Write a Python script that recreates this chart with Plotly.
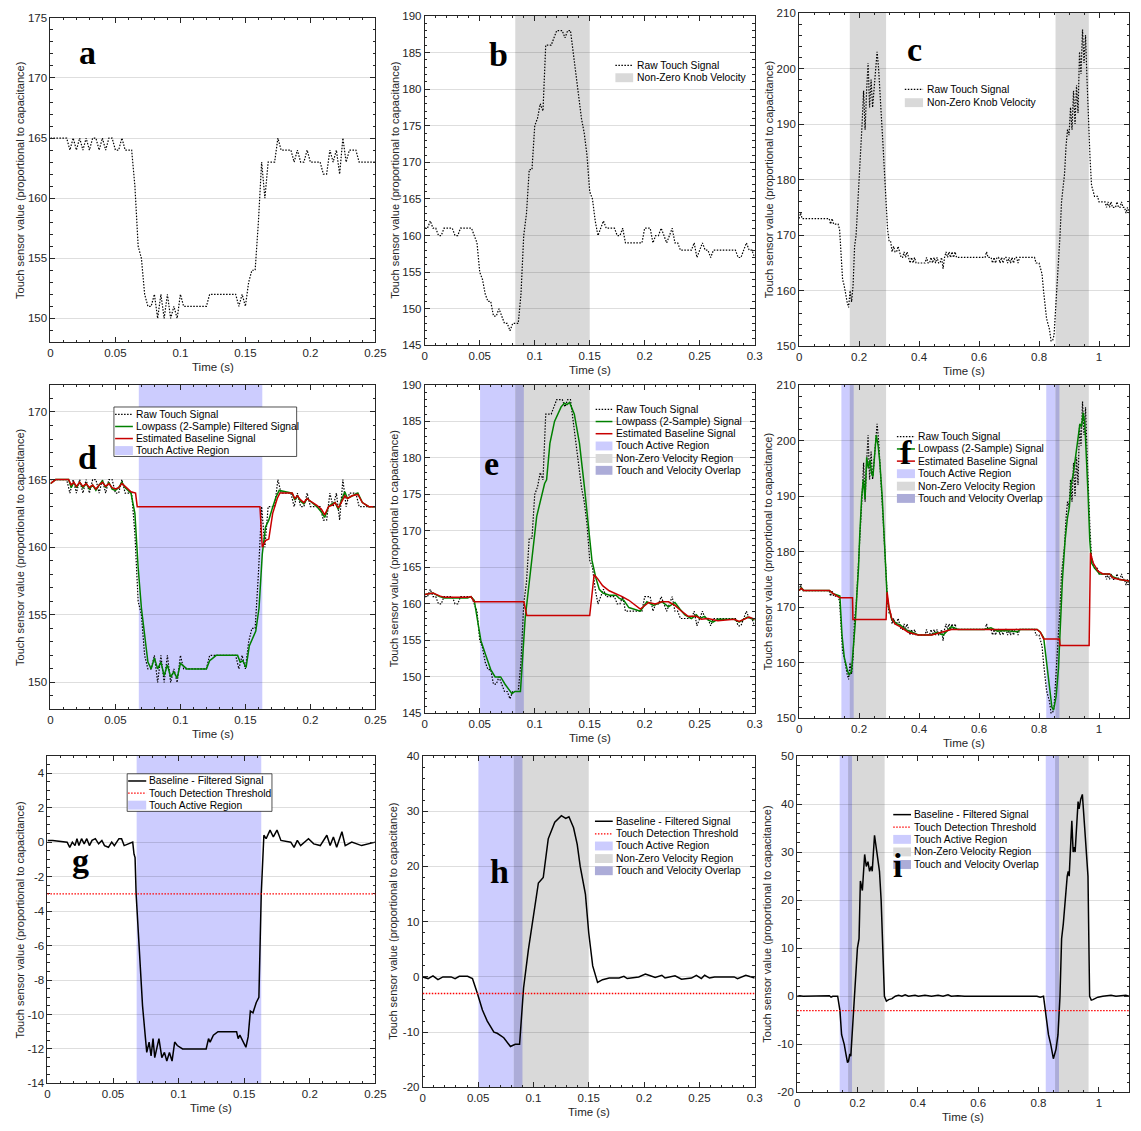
import plotly.graph_objects as go

W, H = 1141, 1131

# ---------------- Dataset 1 (panels a, d, g) ----------------
raw1_dt = 0.0025
raw1_v = [165,165,165,165,165,165,164,165,164,165,
          164,165,164,165,165,164,165,164,165,165,
          164,164,165,164,164,164,161,156,155,152,
          151,151,152,150,152,150,152,150,151,150,
          152,151,151,151,151,151,151,151,151,152,
          152,152,152,152,152,152,152,152,151,152,
          151,153,154,154,158,163,160,163,163,163,
          165,164,164,164,164,163,164,163,163,164,
          163,163,163,163,162,162,164,163,164,162,
          165,163,164,164,164,163,163,163,163,163,163]
filt1_pts = [(0.000,164.7),(0.004,165.0),(0.014,165.0),(0.016,164.4),(0.018,164.8),(0.020,164.4),(0.0225,164.8),
             (0.025,164.4),(0.0275,164.7),(0.030,164.3),(0.0325,164.6),(0.035,164.2),(0.0375,164.6),(0.040,164.9),
             (0.0425,164.4),(0.045,164.8),(0.0475,164.3),(0.050,164.2),(0.0525,164.4),(0.055,164.8),(0.0575,164.4),
             (0.062,164.0),(0.065,162.5),(0.0675,158.5),(0.070,155.5),(0.0725,153.5),(0.075,151.5),(0.0775,151.0),
             (0.080,151.8),(0.0825,151.0),(0.085,151.5),(0.0875,150.5),(0.090,151.3),(0.0925,150.4),(0.095,150.8),
             (0.0975,150.3),(0.100,151.4),(0.1025,151.2),(0.105,151.0),(0.120,151.0),(0.1225,151.6),(0.125,151.8),
             (0.1275,152.0),(0.144,152.0),(0.146,151.5),(0.148,151.6),(0.1505,151.1),(0.153,152.7),(0.1555,153.3),
             (0.158,153.8),(0.1605,155.5),(0.163,159.5),(0.1655,161.5),(0.168,162.0),(0.1705,162.8),(0.1735,163.7),
             (0.176,164.2),(0.186,164.0),(0.188,163.5),(0.190,163.8),(0.1925,163.4),(0.195,163.2),(0.1975,163.6),
             (0.200,163.4),(0.205,163.0),(0.2085,162.6),(0.211,162.2),(0.214,163.0),(0.2165,163.2),(0.219,163.3),
             (0.2215,162.8),(0.224,163.5),(0.2265,164.1),(0.2285,163.6),(0.232,163.8),(0.2365,164.0),(0.240,163.3),
             (0.245,163.0),(0.250,163.0)]
base1_pts = [(0.000,164.7),(0.004,165.0),(0.014,165.0),(0.016,164.6),(0.018,164.8),(0.020,164.5),(0.0225,164.8),
             (0.025,164.5),(0.0275,164.7),(0.030,164.4),(0.0325,164.6),(0.035,164.3),(0.0375,164.6),(0.040,164.8),
             (0.0425,164.5),(0.045,164.7),(0.0475,164.4),(0.050,164.3),(0.0525,164.4),(0.055,164.7),(0.0575,164.5),
             (0.062,164.1),(0.0655,164.0),(0.0668,163.0),(0.1612,163.0),(0.1630,160.0),(0.1655,160.5),(0.168,160.6),
             (0.171,162.5),(0.1745,163.6),(0.1765,164.0),(0.186,164.0),(0.188,163.6),(0.190,163.8),(0.1925,163.5),
             (0.195,163.3),(0.1975,163.6),(0.200,163.4),(0.205,163.1),(0.2085,162.8),(0.211,162.4),(0.214,163.0),
             (0.2165,163.1),(0.219,163.3),(0.2215,162.9),(0.224,163.3),(0.2265,163.8),(0.2285,163.6),(0.232,163.8),
             (0.2365,163.9),(0.240,163.3),(0.245,163.0),(0.250,163.0)]
diff1_pts = [(0.000,0.1),(0.004,0.1),(0.015,0.0),(0.017,-0.3),(0.019,0.0),(0.021,-0.2),(0.0225,0.2),(0.024,-0.2),
             (0.026,0.2),(0.028,-0.1),(0.030,0.2),(0.032,-0.2),(0.034,0.1),(0.0365,0.2),(0.039,-0.1),(0.0415,0.1),
             (0.0435,-0.2),(0.0465,-0.3),(0.049,0.0),(0.051,-0.2),(0.0545,0.2),(0.0565,0.2),(0.0585,-0.2),
             (0.0625,-0.1),(0.065,0.0),(0.066,-0.7),(0.0668,-0.9),(0.0676,-3.0),(0.070,-6.5),(0.0725,-9.5),
             (0.0745,-11.2),(0.0757,-12.2),(0.0775,-11.6),(0.079,-12.4),(0.0805,-11.4),(0.0818,-12.5),(0.085,-11.4),
             (0.0872,-12.5),(0.0892,-12.2),(0.091,-12.7),(0.093,-12.2),(0.095,-12.7),(0.097,-11.6),(0.099,-11.8),
             (0.103,-12.0),(0.121,-12.0),(0.1228,-11.4),(0.124,-11.6),(0.1265,-11.2),(0.130,-11.0),(0.1442,-11.0),
             (0.1454,-11.4),(0.1467,-11.2),(0.150,-11.7),(0.1513,-11.9),(0.153,-11.3),(0.1547,-9.8),(0.1567,-9.9),
             (0.1592,-9.3),(0.1612,-9.0),(0.163,-3.0),(0.165,0.4),(0.1667,0.2),(0.1697,0.7),(0.1722,0.3),
             (0.175,0.7),(0.178,0.1),(0.1855,0.0),(0.188,-0.3),(0.1905,0.1),(0.193,-0.2),(0.199,0.2),(0.203,-0.1),
             (0.208,-0.2),(0.213,0.4),(0.2155,-0.2),(0.218,0.3),(0.2205,-0.3),(0.2245,0.6),(0.227,-0.2),
             (0.232,0.0),(0.2395,-0.2),(0.250,0.0)]
touch1 = [(0.068, 0.163)]

# ---------------- Dataset 2 (panels b, e, h) ----------------
raw2_dt = 0.0025
raw2_v = [161,161,162,161,161,160,160,161,161,161,
          161,160,160,161,161,161,161,161,160,159,
          155,154,152,151,151,149,149,150,149,148,
          148,147,148,148,148,152,160,163,169,169,
          175,176,178,177,186,186,186,187,188,188,
          188,187,188,188,185,182,179,176,174,171,
          166,165,162,160,161,162,161,161,161,161,
          160,160,161,159,159,159,159,159,159,159,
          161,161,161,159,160,160,161,160,159,160,
          161,159,159,158,158,158,158,158,159,157,
          158,159,158,158,157,158,158,158,158,158,
          158,158,158,158,157,157,158,159,158,158,157]
filt2_pts = [(0.000,161.3),(0.0075,161.5),(0.0135,161.0),(0.018,160.8),(0.039,160.8),(0.042,161.0),(0.045,160.5),
             (0.048,158.0),(0.051,155.0),(0.0554,153.0),(0.060,151.0),(0.064,150.0),(0.069,150.0),(0.073,149.0),
             (0.0793,147.7),(0.082,148.0),(0.087,148.0),(0.0913,158.0),(0.0973,166.0),(0.1018,172.0),(0.109,176.5),
             (0.1108,177.0),(0.1138,182.0),(0.118,185.0),(0.124,187.0),(0.127,187.5),(0.1293,187.3),(0.1317,187.6),
             (0.136,186.0),(0.1407,182.0),(0.1452,176.0),(0.149,170.0),(0.152,166.0),(0.1557,163.5),(0.1587,162.0),
             (0.162,161.5),(0.168,161.2),(0.174,161.2),(0.1766,160.8),(0.181,160.5),(0.1856,159.5),(0.196,159.0),
             (0.202,160.3),(0.208,159.8),(0.2156,160.3),(0.2216,159.6),(0.2275,160.2),(0.232,159.3),(0.2365,158.5),
             (0.2425,158.0),(0.247,158.5),(0.250,158.0),(0.2545,158.3),(0.2575,157.8),(0.262,157.5),(0.2665,157.9),
             (0.2814,157.9),(0.2859,157.5),(0.2934,158.2),(0.300,157.8)]
base2_pts = [(0.000,161.3),(0.0075,161.5),(0.0135,161.1),(0.018,160.9),(0.039,160.9),(0.042,161.0),(0.045,160.3),
             (0.0901,160.3),(0.0928,158.4),(0.150,158.4),(0.154,164.0),(0.157,163.5),(0.1617,162.5),(0.1677,161.8),
             (0.1796,161.0),(0.1856,160.5),(0.196,159.3),(0.2036,160.2),(0.2096,160.0),(0.2156,160.3),(0.2216,160.3),
             (0.2275,159.8),(0.2335,159.0),(0.2395,158.3),(0.247,158.3),(0.2515,157.9),(0.2575,158.0),(0.2665,157.7),
             (0.2814,157.9),(0.2859,157.6),(0.2949,158.2),(0.300,157.9)]
diff2_pts = [(0.000,0.0),(0.0048,-0.3),(0.0092,0.2),(0.0137,-0.5),(0.0182,0.0),(0.0256,0.0),(0.0292,-0.3),(0.033,0.1),
             (0.0405,0.1),(0.0449,-0.3),(0.0494,-3.0),(0.0539,-6.0),(0.0583,-8.0),(0.0643,-10.0),(0.0673,-10.2),
             (0.0732,-11.0),(0.0792,-12.6),(0.0836,-12.2),(0.0875,-12.2),(0.0911,-2.0),(0.0955,5.0),(0.0994,10.0),
             (0.1045,17.0),(0.1089,18.0),(0.1134,25.0),(0.1193,28.0),(0.1253,29.2),(0.1292,28.7),(0.1321,29.0),
             (0.1363,27.0),(0.1396,24.0),(0.1423,20.0),(0.147,15.0),(0.150,8.0),(0.1536,2.0),(0.158,-1.0),
             (0.1625,-0.5),(0.1685,-0.2),(0.1774,-0.2),(0.1818,0.1),(0.1848,-0.3),(0.1952,0.0),(0.2012,0.5),
             (0.2057,0.2),(0.2101,-0.1),(0.2161,0.3),(0.219,-0.2),(0.228,0.2),(0.2339,-0.4),(0.2429,-0.2),
             (0.2473,0.3),(0.2518,-0.3),(0.2548,0.3),(0.2592,-0.2),(0.2637,0.0),(0.2815,0.0),(0.2845,-0.3),
             (0.292,0.3),(0.300,-0.2)]
velocity2 = [(0.0823, 0.150)]
touch2 = [(0.0503, 0.0901)]
overlap2 = [(0.0823, 0.0901)]

# ---------------- Dataset 3 (panels c, f, i) ----------------
raw3_dt = 0.005
raw3_v = [173,174,173,173,173,173,173,173,173,173,
          173,173,173,173,173,173,173,173,173,173,
          173,172,173,172,172,172,172,171,166,162,
          161,159,158,157,160,158,161,168,170,175,
          180,183,190,196,189,196,201,193,198,193,
          197,200,203,200,196,192,186,181,176,171,
          169,169,167,168,167,167,168,167,166,166,
          167,166,167,166,165,166,165,166,165,165,
          165,165,165,165,165,166,165,165,166,165,
          166,165,166,165,165,166,164,166,167,166,
          167,166,167,166,167,166,166,166,166,166,
          166,166,166,166,166,166,166,166,166,166,
          166,166,166,166,166,167,166,166,166,165,
          166,165,166,166,165,166,165,166,166,165,
          166,165,166,165,166,166,165,166,166,166,
          166,166,166,166,166,166,166,166,165,165,
          165,164,163,160,157,155,154,153,151,151,
          152,156,160,165,170,176,178,181,186,189,
          188,193,189,196,190,197,192,203,199,207,
          201,206,198,190,184,179,178,177,177,177,
          176,176,176,176,176,175,176,175,176,175,
          175,175,176,175,175,176,175,175,174,175,174]
filt3_pts = [(0.000,173.0),(0.0077,173.5),(0.0154,173.0),(0.101,173.0),(0.112,172.5),(0.136,172.0),(0.143,165.0),
             (0.1505,161.0),(0.1615,158.5),(0.167,157.8),(0.1747,158.5),(0.180,162.0),(0.187,167.0),(0.1923,172.0),
             (0.198,177.0),(0.2022,183.0),(0.2088,190.0),(0.2143,193.0),(0.2198,189.5),(0.2253,197.0),(0.2308,195.0),
             (0.2363,196.5),(0.2418,194.0),(0.2462,193.5),(0.2516,198.0),(0.2571,201.0),(0.2637,199.0),(0.2692,196.0),
             (0.2769,190.0),(0.2824,184.0),(0.2879,178.0),(0.2934,172.0),(0.2989,170.0),(0.3077,168.0),(0.3154,167.5),
             (0.3264,167.0),(0.3374,166.8),(0.3538,166.0),(0.3758,165.5),(0.3978,165.0),(0.4418,165.0),(0.4582,165.5),
             (0.4802,165.0),(0.4967,166.0),(0.5077,166.5),(0.5297,166.0),(0.6176,166.0),(0.6396,166.3),(0.6615,165.7),
             (0.6835,165.8),(0.7275,165.6),(0.7385,166.0),(0.7934,166.0),(0.8044,165.5),(0.8154,164.5),(0.8209,162.0),
             (0.8297,158.0),(0.8352,155.0),(0.8429,152.0),(0.8484,151.5),(0.8571,154.0),(0.8648,159.0),(0.8703,166.0),
             (0.878,175.0),(0.8868,182.0),(0.8945,186.0),(0.9011,188.0),(0.9066,192.0),(0.9143,194.0),(0.9231,198.0),
             (0.9308,201.0),(0.9363,203.0),(0.9418,202.5),(0.9473,205.0),(0.9527,203.0),(0.9582,197.0),(0.9637,190.0),
             (0.9692,182.0),(0.9747,178.0),(0.9857,177.0),(1.0022,176.0),(1.0352,176.0),(1.0462,175.5),(1.0681,175.0),
             (1.100,174.7)]
base3_pts = [(0.000,173.0),(0.0077,173.4),(0.0154,173.0),(0.101,173.0),(0.112,172.5),(0.136,171.7),(0.178,171.7),
             (0.1795,167.8),(0.290,167.8),(0.2934,172.7),(0.2999,170.0),(0.3088,168.0),(0.3198,167.0),(0.3363,166.5),
             (0.3637,165.5),(0.3967,165.0),(0.4418,165.0),(0.4637,165.3),(0.4967,165.8),(0.5077,166.0),(0.7934,166.0),
             (0.8044,165.5),(0.8154,164.3),(0.868,164.3),(0.8703,163.1),(0.967,163.1),(0.9714,179.8),(0.9802,178.0),
             (0.9967,176.5),(1.0132,176.0),(1.0352,176.0),(1.0462,175.3),(1.0681,175.0),(1.100,174.7)]
diff3_pts = [(0.000,0.0),(0.0087,0.1),(0.0197,0.0),(0.1015,0.0),(0.107,0.1),(0.1124,-0.2),(0.1179,0.0),(0.1343,0.0),
             (0.1419,-3.0),(0.1474,-8.0),(0.1561,-10.0),(0.1616,-12.0),(0.167,-13.8),(0.1703,-13.5),(0.1747,-12.0),
             (0.1779,-12.5),(0.1834,-7.0),(0.1889,0.0),(0.1943,5.0),(0.1998,10.0),(0.2052,12.0),(0.2096,24.0),
             (0.2162,22.0),(0.2238,29.5),(0.2293,27.0),(0.2347,28.0),(0.2402,26.0),(0.2456,27.0),(0.2489,26.0),
             (0.2565,33.5),(0.2642,30.0),(0.2686,28.0),(0.2729,26.0),(0.2784,20.0),(0.2849,10.0),(0.2893,0.0),
             (0.2959,-1.0),(0.3035,-0.7),(0.3144,-0.5),(0.3253,0.0),(0.3362,0.2),(0.3472,0.0),(0.3581,0.3),
             (0.369,0.0),(0.3908,0.2),(0.4017,0.0),(0.4236,0.2),(0.4454,0.0),(0.4672,0.2),(0.4836,0.0),(0.500,0.3),
             (0.5109,0.0),(0.5328,0.1),(0.5546,0.0),(0.7948,0.0),(0.8057,-0.2),(0.8166,0.0),(0.8221,-3.0),
             (0.833,-8.0),(0.8406,-10.0),(0.8493,-13.0),(0.8581,-11.0),(0.8646,-8.0),(0.8712,0.0),(0.8766,12.0),
             (0.8821,15.0),(0.8876,20.0),(0.8952,25.0),(0.8985,26.0),(0.9017,25.0),(0.9105,36.5),(0.9148,30.0),
             (0.9181,31.0),(0.9214,30.0),(0.9312,40.5),(0.9345,39.0),(0.940,41.0),(0.9454,42.0),(0.9531,35.0),
             (0.964,25.0),(0.9694,0.0),(0.9749,-0.8),(0.9803,-0.7),(0.9967,-0.2),(1.0131,0.0),(1.0404,0.2),
             (1.0568,0.0),(1.0895,0.2),(1.100,0.0)]
velocity3 = [(0.169, 0.290), (0.855, 0.966)]
touch3 = [(0.141, 0.182), (0.824, 0.868)]
overlap3 = [(0.169, 0.182), (0.855, 0.868)]

threshold = -3

# tick values
xt_short = [0, 0.05, 0.1, 0.15, 0.2, 0.25]
xt_mid = [0, 0.05, 0.1, 0.15, 0.2, 0.25, 0.3]
xt_long = [0, 0.2, 0.4, 0.6, 0.8, 1.0]
yt_a = [150, 155, 160, 165, 170, 175]
yt_b = [145, 150, 155, 160, 165, 170, 175, 180, 185, 190]
yt_c = [150, 160, 170, 180, 190, 200, 210]
yt_d = [150, 155, 160, 165, 170]
yt_g = [-14, -12, -10, -8, -6, -4, -2, 0, 2, 4]
yt_h = [-20, -10, 0, 10, 20, 30, 40]
yt_i = [-20, -10, 0, 10, 20, 30, 40, 50]

# ---------------- styling ----------------
FONT = "Liberation Sans, Arial, Helvetica, sans-serif"
SERIF = "Liberation Serif, Times New Roman, serif"
AX = "#262626"
GRID = "rgba(0,0,0,0.13)"
TOUCH = "#ccccfe"
VEL = "#d9d9d9"
OVER = "#acacd8"
GREEN = "#008000"
RED = "#c80000"
DOT = "1.5px,1.5px"

def fx(px): return px / W
def fy(py): return 1 - py / H

# name, idx, x0, x1, ytop, ybot, xrange, yrange, xticks, xminor, yticks, yminor
PANELS = [
    ("a", 1, 48, 377, 12, 340, [0, 0.25], [148, 175], xt_short, 0.01, yt_a, 1),
    ("b", 2, 427, 761, 10, 343, [0, 0.3], [145, 190], xt_mid, 0.01, yt_b, 1),
    ("c", 3, 806, 1140, 7, 344, [0, 1.1], [150, 210], xt_long, 0.05, yt_c, 2),
    ("d", 4, 48, 377, 383, 711, [0, 0.25], [148, 172], xt_short, 0.01, yt_d, 1),
    ("e", 5, 427, 761, 383, 715, [0, 0.3], [145, 190], xt_mid, 0.01, yt_b, 1),
    ("f", 6, 806, 1140, 383, 720, [0, 1.1], [150, 210], xt_long, 0.05, yt_c, 2),
    ("g", 7, 45, 377, 758, 1089, [0, 0.25], [-14, 5], xt_short, 0.01, yt_g, 0.5),
    ("h", 8, 425, 761, 758, 1093, [0, 0.3], [-20, 40], xt_mid, 0.01, yt_h, 2),
    ("i", 9, 804, 1140, 758, 1098, [0, 1.1], [-20, 50], xt_long, 0.05, yt_i, 2),
]

def xa(n): return "x" if n == 1 else f"x{n}"
def ya(n): return "y" if n == 1 else f"y{n}"

fig = go.Figure()
layout = dict(width=W, height=H, margin=dict(l=0, r=0, t=0, b=0), autosize=False,
              paper_bgcolor="white", plot_bgcolor="white", showlegend=False,
              font=dict(family=FONT, size=11, color=AX))
annotations = []
shapes = []

tickfont = dict(family=FONT, size=11.5, color=AX)
for (name, n, x0, x1, yt, yb, xr, yr, xticks, xmin, yticks, ymin) in PANELS:
    sfx = "" if n == 1 else str(n)
    layout["xaxis" + sfx] = dict(
        domain=[fx(x0), fx(x1)], range=xr, anchor=ya(n), showline=True, linecolor=AX, linewidth=1,
        mirror="allticks", ticks="inside", ticklen=5, tickwidth=1, tickcolor=AX,
        tickmode="array", tickvals=xticks, ticktext=[f"{v:g}" for v in xticks],
        minor=dict(ticks="inside", ticklen=2.5, tickcolor=AX, dtick=xmin, tick0=0, showgrid=False),
        showgrid=False, zeroline=False, tickfont=tickfont, fixedrange=True)
    layout["yaxis" + sfx] = dict(
        domain=[fy(yb), fy(yt)], range=yr, anchor=xa(n), showline=True, linecolor=AX, linewidth=1,
        mirror="allticks", ticks="inside", ticklen=5, tickwidth=1, tickcolor=AX,
        tickmode="array", tickvals=yticks, ticktext=[f"{v:g}" for v in yticks],
        minor=dict(ticks="inside", ticklen=2.5, tickcolor=AX, dtick=ymin, tick0=0, showgrid=False),
        showgrid=True, gridcolor=GRID, gridwidth=1, zeroline=False, tickfont=tickfont, fixedrange=True)
    annotations.append(dict(text="Time (s)", xref="paper", yref="paper", x=fx((x0 + x1) / 2), y=fy(yb + 25),
                            xanchor="center", yanchor="middle", showarrow=False,
                            font=dict(family=FONT, size=11.5, color=AX)))

ytitle_x = {1: 17, 2: 396, 3: 775, 4: 17, 5: 396, 6: 774, 7: 17, 8: 395, 9: 774}
for (name, n, x0, x1, yt, yb, *_r) in PANELS:
    annotations.append(dict(text="Touch sensor value (proportional to capacitance)", xref="paper", yref="paper",
                            x=fx(ytitle_x[n]), y=fy((yt + yb) / 2), textangle=-90, xanchor="center",
                            yanchor="middle", showarrow=False, font=dict(family=FONT, size=11, color=AX)))

def add_regions(n, regions, color):
    for (t0, t1) in regions:
        shapes.append(dict(type="rect", xref=xa(n), yref=ya(n) + " domain", x0=t0, x1=t1, y0=0, y1=1,
                           fillcolor=color, line=dict(width=0), layer="below"))

def add_thresh(n, value):
    shapes.append(dict(type="line", xref=xa(n) + " domain", yref=ya(n), x0=0, x1=1, y0=value, y1=value,
                       line=dict(color="#ff0000", width=1.3, dash=DOT), layer="above"))

def add_line(n, x, y, color, width, dash="solid"):
    fig.add_trace(go.Scatter(x=x, y=y, mode="lines", xaxis=xa(n), yaxis=ya(n), hoverinfo="skip",
                             line=dict(color=color, width=width, dash=dash), showlegend=False))

def unzip(pts):
    return [p[0] for p in pts], [p[1] for p in pts]

raw1_t = [round(k * raw1_dt, 6) for k in range(len(raw1_v))]
raw2_t = [round(k * raw2_dt, 6) for k in range(len(raw2_v))]
raw3_t = [round(k * raw3_dt, 6) for k in range(len(raw3_v))]

# panel a
add_line(1, raw1_t, raw1_v, "black", 1.2, DOT)
# panel b
add_regions(2, velocity2, VEL)
add_line(2, raw2_t, raw2_v, "black", 1.2, DOT)
# panel c
add_regions(3, velocity3, VEL)
add_line(3, raw3_t, raw3_v, "black", 1.2, DOT)
# panel d
add_regions(4, touch1, TOUCH)
add_line(4, raw1_t, raw1_v, "black", 1.2, DOT)
add_line(4, *unzip(filt1_pts), GREEN, 1.5)
add_line(4, *unzip(base1_pts), RED, 1.5)
# panel e
add_regions(5, touch2, TOUCH); add_regions(5, velocity2, VEL); add_regions(5, overlap2, OVER)
add_line(5, raw2_t, raw2_v, "black", 1.2, DOT)
add_line(5, *unzip(filt2_pts), GREEN, 1.5)
add_line(5, *unzip(base2_pts), RED, 1.5)
# panel f
add_regions(6, touch3, TOUCH); add_regions(6, velocity3, VEL); add_regions(6, overlap3, OVER)
add_line(6, raw3_t, raw3_v, "black", 1.2, DOT)
add_line(6, *unzip(filt3_pts), GREEN, 1.5)
add_line(6, *unzip(base3_pts), RED, 1.5)
# panel g
add_regions(7, touch1, TOUCH); add_thresh(7, threshold)
add_line(7, *unzip(diff1_pts), "black", 1.5)
# panel h
add_regions(8, touch2, TOUCH); add_regions(8, velocity2, VEL); add_regions(8, overlap2, OVER)
add_thresh(8, threshold)
add_line(8, *unzip(diff2_pts), "black", 1.5)
# panel i
add_regions(9, touch3, TOUCH); add_regions(9, velocity3, VEL); add_regions(9, overlap3, OVER)
add_thresh(9, threshold)
add_line(9, *unzip(diff3_pts), "black", 1.5)

# ---------------- legends (drawn manually) ----------------
LEG_FONT = dict(family=FONT, size=10.3, color="black")

def legend(entries, sx0, sx1, tx, rows, box=None):
    if box:
        bx0, by0, bx1, by1 = box
        shapes.append(dict(type="rect", xref="paper", yref="paper", x0=fx(bx0), x1=fx(bx1), y0=fy(by1), y1=fy(by0),
                           fillcolor="white", line=dict(color=AX, width=0.8), layer="above"))
    for (kind, color, label), ry in zip(entries, rows):
        if kind == "patch":
            shapes.append(dict(type="rect", xref="paper", yref="paper", x0=fx(sx0), x1=fx(sx1),
                               y0=fy(ry + 4.5), y1=fy(ry - 4.5), fillcolor=color, line=dict(width=0),
                               layer="above"))
        else:
            dash = DOT if kind == "dot" else "solid"
            width = 1.2 if kind == "dot" else 1.5
            shapes.append(dict(type="line", xref="paper", yref="paper", x0=fx(sx0), x1=fx(sx1), y0=fy(ry),
                               y1=fy(ry), line=dict(color=color, width=width, dash=dash), layer="above"))
        annotations.append(dict(text=label, xref="paper", yref="paper", x=fx(tx), y=fy(ry), xanchor="left",
                                yanchor="middle", showarrow=False, font=LEG_FONT))

E_RAW = ("dot", "black", "Raw Touch Signal")
E_KNOB = ("patch", VEL, "Non-Zero Knob Velocity")
E_TOUCH = ("patch", TOUCH, "Touch Active Region")
E_VEL = ("patch", VEL, "Non-Zero Velocity Region")
E_OVER = ("patch", OVER, "Touch and Velocity Overlap")
E_BASE = ("line", RED, "Estimated Baseline Signal")
E_LP = ("line", GREEN, "Lowpass (2-Sample) Signal")
E_DIFF = ("line", "black", "Baseline - Filtered Signal")
E_THR = ("dot", "#ff0000", "Touch Detection Threshold")

legend([E_RAW, E_KNOB], 620, 638, 640, [60, 72.5])
legend([E_RAW, E_KNOB], 913, 931.5, 933, [84.3, 97.7])
legend([E_RAW, ("line", GREEN, "Lowpass (2-Sample) Filtered Signal"), E_BASE, E_TOUCH], 113.5, 131.5, 132.5,
       [412.7, 425, 437.2, 449.3], box=(112.3, 405.3, 297.3, 455.3))
legend([E_RAW, E_LP, E_BASE, E_TOUCH, E_VEL, E_OVER], 600, 617, 618.3, [407.7, 420, 432.3, 444.7, 457.3, 469.3])
legend([E_RAW, E_LP, E_BASE, E_TOUCH, E_VEL, E_OVER], 905, 923.3, 924.3, [435.3, 447.7, 460, 472.7, 485.3, 497.7])
legend([E_DIFF, E_THR, E_TOUCH], 126.7, 145, 146, [783.3, 795.5, 807.7], box=(125.7, 776, 272.3, 814))
legend([E_DIFF, E_THR, E_TOUCH, E_VEL, E_OVER], 599.3, 617.3, 618.3, [824, 836.7, 849, 861.7, 874])
legend([E_DIFF, E_THR, E_TOUCH, E_VEL, E_OVER], 901.3, 919.3, 920.3, [817.3, 830, 842.3, 855, 867.7])

# ---------------- panel letters ----------------
LETTERS = [("a", 86, 47.5), ("b", 502, 49.5), ("c", 923, 43.5), ("d", 85.5, 456.5), ("e", 495, 462.5),
           ("f", 914.5, 451.5), ("g", 78.7, 863.5), ("h", 503, 874.5), ("i", 905.5, 868.5)]
for (ch, px, py) in LETTERS:
    annotations.append(dict(text=f"<b>{ch}</b>", xref="paper", yref="paper", x=fx(px), y=fy(py),
                            xanchor="center", yanchor="middle", showarrow=False,
                            font=dict(family=SERIF, size=34, color="black")))

layout["annotations"] = annotations
layout["shapes"] = shapes
fig.update_layout(**layout)
fig.write_html("out.html")
